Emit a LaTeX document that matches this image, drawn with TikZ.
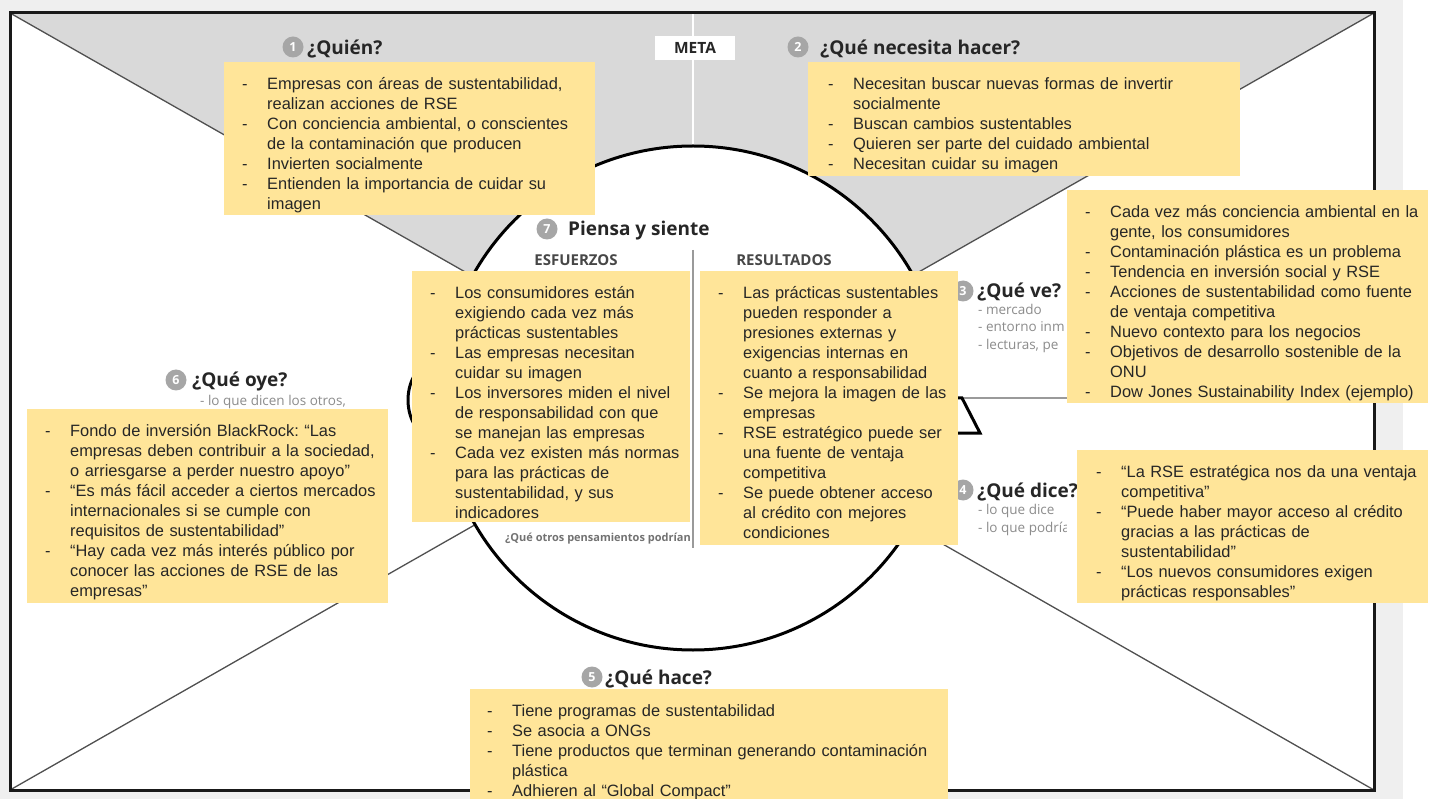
\documentclass[tikz,border=0pt]{standalone}
\usepackage{fontspec}
\setmainfont{Liberation Sans}
\newfontfamily\headfont{Open Sans}
\newfontfamily\notefont{Liberation Sans}
\frenchspacing

\definecolor{noteyellow}{HTML}{FFE599}
\definecolor{topgrey}{HTML}{D9D9D9}
\definecolor{outergrey}{HTML}{EFEFEF}
\definecolor{numgrey}{HTML}{A6A6A6}
\definecolor{inkdark}{HTML}{262626}
\definecolor{subgrey}{HTML}{8C8C8C}
\definecolor{diaggrey}{HTML}{505050}
\definecolor{divgrey}{HTML}{9A9A9A}

% one bullet of a sticky note, with hanging indent for its wrapped lines
\newcommand\itm[1]{\par\hangindent=29pt\hangafter=1\noindent\makebox[29pt][l]{\rule{0pt}{15pt}\hspace{4pt}-}#1\par}

\tikzset{
  note/.style 2 args={fill=noteyellow, draw=none, inner sep=0pt, anchor=north west,
    minimum width=#1, minimum height=#2},
  notetext/.style={anchor=north west, inner sep=0pt, text width=#1, align=left,
    font=\notefont\fontsize{16.4pt}{20pt}\selectfont, text=inkdark},
  head/.style={font=\headfont\bfseries\fontsize{19pt}{22pt}\selectfont, text=inkdark,
    inner sep=0pt, anchor=base west},
  numdot/.style={circle, fill=numgrey, minimum size=21pt, inner sep=0pt, text=white,
    font=\headfont\bfseries\fontsize{12.5pt}{12.5pt}\selectfont},
  subtext/.style={font=\headfont\fontsize{13.5pt}{15pt}\selectfont, text=subgrey,
    inner sep=0pt, anchor=base west},
  colhead/.style={font=\headfont\bfseries\fontsize{15pt}{16pt}\selectfont, text=inkdark!85,
    inner sep=0pt},
  diag/.style={draw=diaggrey, line width=1.3pt},
  headline/.style={draw=black, line width=3pt},
  frameline/.style={draw=black!90, line width=3pt},
  divline/.style={draw=divgrey, line width=1.8pt},
}

\begin{document}
\begin{tikzpicture}[x=1pt, y=-1pt]
\useasboundingbox (0,0) rectangle (1443,799);

% canvas and frame corners
\fill[white] (0,0) rectangle (1443,799);
\fill[outergrey] (0,0) rectangle (1403,799);
\coordinate (tl) at (10,13);
\coordinate (tr) at (1374,13);
\coordinate (bl) at (10,790);
\coordinate (br) at (1374,790);
\coordinate (ctr) at (692,401);
\fill[white] (tl) rectangle (br);

% goal area on top
\fill[topgrey] (tl) -- (tr) -- (ctr) -- cycle;
\draw[diag] (tl) -- (ctr) -- (tr);
\draw[diag] (bl) -- (ctr) -- (br);
\coordinate (goaltop) at (693,13);
\coordinate (goalbot) at (693,150);
\draw[white, line width=2pt] (goaltop) -- (goalbot);

% see / say divider
\coordinate (nosetip) at (962,398);
\coordinate (rdiv) at (1374,398);
\draw[divline] (nosetip) -- (rdiv);

% head: ear, nose and skull
\draw[headline, fill=white] (438,400) ellipse [x radius=30, y radius=40];
\draw[headline, fill=white, line join=miter] (940,398) -- (nosetip) -- (980,433) -- (940,433);
\node[circle, headline, fill=white, minimum size=504pt, inner sep=0pt] (head) at (693,398) {};

% pains / gains divider
\coordinate (divtop) at (693,250);
\coordinate (divbot) at (693,548);
\draw[divline] (divtop) -- (divbot);

% frame
\draw[frameline] (tl) rectangle (br);

% goal label
\node[fill=white, minimum width=80pt, minimum height=24pt, inner sep=0pt,
  font=\headfont\bfseries\fontsize{15.5pt}{15.5pt}\selectfont, text=inkdark] (meta) at (695,48) {META};

% section headings
\node[numdot] (n1) at (293,47) {1};
\node[head] (h1) at (307,55) {¿Quién?};
\node[numdot] (n2) at (798,47) {2};
\node[head] (h2) at (820,55) {¿Qué necesita hacer?};
\node[numdot] (n3) at (963,291) {3};
\node[head] (h3) at (977,298) {¿Qué ve?};
\node[numdot] (n4) at (963,490) {4};
\node[head] (h4) at (977,497) {¿Qué dice?};
\begin{scope}
  \clip (970,300) rectangle (1066,540);
  \node[subtext] (s3a) at (978,315) {- mercado};
  \node[subtext] (s3b) at (978,332) {- entorno inm};
  \node[subtext] (s3c) at (978,350) {- lecturas, pe};
  \node[subtext] (s4a) at (978,514) {- lo que dice};
  \node[subtext] (s4b) at (978,532) {- lo que podría};
\end{scope}
\node[numdot] (n5) at (592,677) {5};
\node[head] (h5) at (605,684) {¿Qué hace?};
\node[numdot] (n6) at (176,380) {6};
\node[head] (h6) at (192,387) {¿Qué oye?};
\node[subtext] (s6) at (200,406) {- lo que dicen los otros,};
\node[numdot] (n7) at (547,229) {7};
\node[head] (h7) at (568,236) {Piensa y siente};
\node[colhead] (esf) at (576,260) {ESFUERZOS};
\node[colhead] (res) at (784,260) {RESULTADOS};
\node[subtext, font=\headfont\bfseries\fontsize{11pt}{12pt}\selectfont, text=inkdark!65] (otros) at (505,541) {¿Qué otros pensamientos podrían};

% sticky notes
\node[note={371pt}{153pt}] (quien) at (224,62) {};
\node[notetext=360pt] (quient) at ([xshift=14pt,yshift=-7pt]quien.north west) {%
\itm{Empresas con áreas de sustentabilidad,\newline realizan acciones de RSE}
\itm{Con conciencia ambiental, o conscientes\newline de la contaminación que producen}
\itm{Invierten socialmente}
\itm{Entienden la importancia de cuidar su\newline imagen}};

\node[note={432pt}{114pt}] (nec) at (808,62) {};
\node[notetext=420pt] (nect) at ([xshift=16pt,yshift=-7pt]nec.north west) {%
\itm{Necesitan buscar nuevas formas de invertir\newline socialmente}
\itm{Buscan cambios sustentables}
\itm{Quieren ser parte del cuidado ambiental}
\itm{Necesitan cuidar su imagen}};

\node[note={361pt}{213pt}] (ve) at (1067,190) {};
\node[notetext=350pt] (vet) at ([xshift=14pt,yshift=-7pt]ve.north west) {%
\itm{Cada vez más conciencia ambiental en la\newline gente, los consumidores}
\itm{Contaminación plástica es un problema}
\itm{Tendencia en inversión social y RSE}
\itm{Acciones de sustentabilidad como fuente\newline de ventaja competitiva}
\itm{Nuevo contexto para los negocios}
\itm{Objetivos de desarrollo sostenible de la\newline ONU}
\itm{Dow Jones Sustainability Index (ejemplo)}};

\node[note={351pt}{153pt}] (dice) at (1077,450) {};
\node[notetext=340pt] (dicet) at ([xshift=15pt,yshift=-7pt]dice.north west) {%
\itm{“La RSE estratégica nos da una ventaja\newline competitiva”}
\itm{“Puede haber mayor acceso al crédito\newline gracias a las prácticas de\newline sustentabilidad”}
\itm{“Los nuevos consumidores exigen\newline prácticas responsables”}};

\node[note={478pt}{112pt}] (hace) at (470,689) {};
\node[notetext=460pt] (hacet) at ([xshift=13pt,yshift=-7pt]hace.north west) {%
\itm{Tiene programas de sustentabilidad}
\itm{Se asocia a ONGs}
\itm{Tiene productos que terminan generando contaminación\newline plástica}
\itm{Adhieren al “Global Compact”}};

\node[note={361pt}{194pt}] (oye) at (27,409) {};
\node[notetext=350pt] (oyet) at ([xshift=14pt,yshift=-7pt]oye.north west) {%
\itm{Fondo de inversión BlackRock: “Las\newline empresas deben contribuir a la sociedad,\newline o arriesgarse a perder nuestro apoyo”}
\itm{“Es más fácil acceder a ciertos mercados\newline internacionales si se cumple con\newline requisitos de sustentabilidad”}
\itm{“Hay cada vez más interés público por\newline conocer las acciones de RSE de las\newline empresas”}};

\node[note={278pt}{251pt}] (esfz) at (412,271) {};
\node[notetext=270pt] (esfzt) at ([xshift=14pt,yshift=-7pt]esfz.north west) {%
\itm{Los consumidores están\newline exigiendo cada vez más\newline prácticas sustentables}
\itm{Las empresas necesitan\newline cuidar su imagen}
\itm{Los inversores miden el nivel\newline de responsabilidad con que\newline se manejan las empresas}
\itm{Cada vez existen más normas\newline para las prácticas de\newline sustentabilidad, y sus\newline indicadores}};

\node[note={258pt}{274pt}] (resu) at (700,271) {};
\node[notetext=255pt] (resut) at ([xshift=14pt,yshift=-7pt]resu.north west) {%
\itm{Las prácticas sustentables\newline pueden responder a\newline presiones externas y\newline exigencias internas en\newline cuanto a responsabilidad}
\itm{Se mejora la imagen de las\newline empresas}
\itm{RSE estratégico puede ser\newline una fuente de ventaja\newline competitiva}
\itm{Se puede obtener acceso\newline al crédito con mejores\newline condiciones}};

\end{tikzpicture}
\end{document}
